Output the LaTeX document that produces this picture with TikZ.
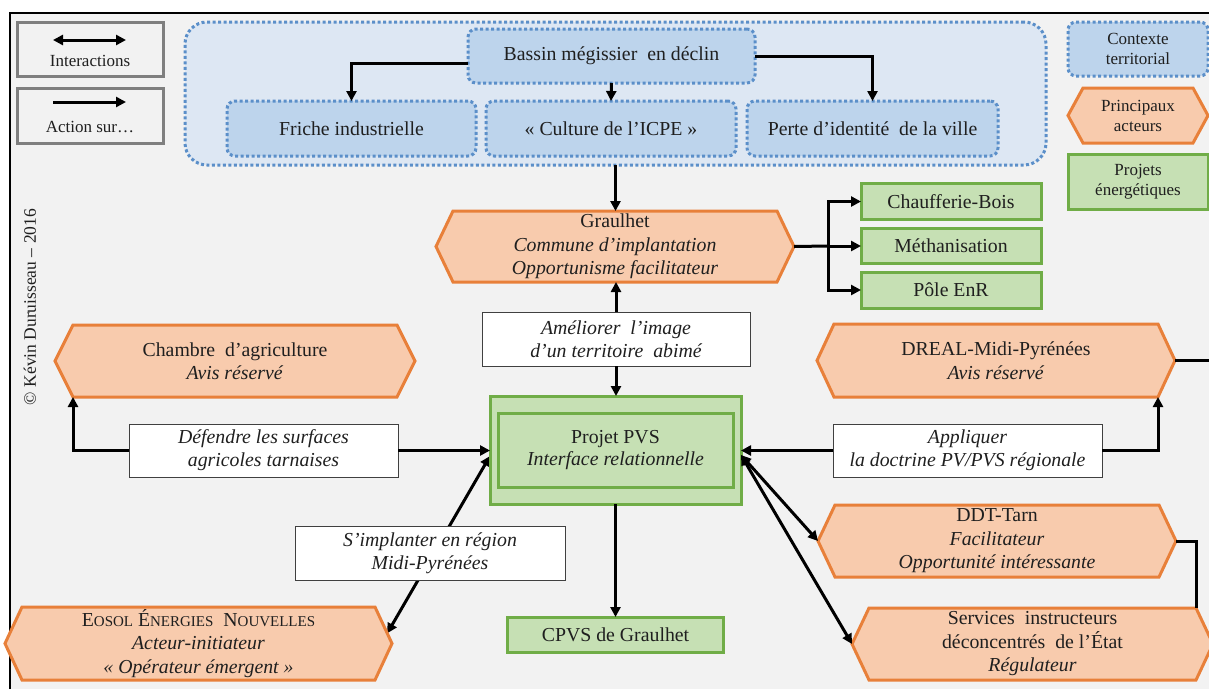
\documentclass[tikz,border=0pt]{standalone}
\usepackage{fontspec}
\setmainfont{Liberation Serif}
\usetikzlibrary{arrows.meta,calc}
\definecolor{bgGray}{HTML}{F2F2F2}
\definecolor{ctxFill}{HTML}{DDE7F3}
\definecolor{ctxBox}{HTML}{BDD4EC}
\definecolor{ctxLine}{HTML}{5B8FC9}
\definecolor{actFill}{HTML}{F8CBAD}
\definecolor{actLine}{HTML}{E8803A}
\definecolor{enFill}{HTML}{C6E0B4}
\definecolor{enLine}{HTML}{70AD47}
\definecolor{legLine}{HTML}{7F7F7F}
\definecolor{txt}{HTML}{1F1F1F}
\pgfdeclarelayer{framelayer}
\pgfdeclarelayer{edgelayer}
\pgfsetlayers{framelayer,edgelayer,main}
\tikzset{
 every node/.style={text=txt, font=\fontsize{19.8}{23.5}\selectfont, inner sep=0pt, outer sep=0pt},
 ctxbox/.style={draw=ctxLine, fill=ctxBox, line width=3pt, dash pattern=on 3pt off 2.5pt, rounded corners=8pt, align=center},
 enbox/.style={draw=enLine, fill=enFill, line width=3pt, align=center},
 lblbox/.style={draw=black!75, fill=white, line width=1pt, align=center, font=\itshape\fontsize{19.8}{23}\selectfont},
 actorline/.style={draw=actLine, fill=actFill, line width=3pt, line join=miter},
 actortext/.style={align=center},
 legbox/.style={draw=legLine, fill=bgGray, line width=3pt},
 legtext/.style={font=\fontsize{17}{20}\selectfont, align=center},
 act/.style={line width=3pt, -{Triangle[length=10pt,width=10pt]}},
 inter/.style={line width=3pt, {Triangle[length=10pt,width=10pt]}-{Triangle[length=10pt,width=10pt]}},
 plain/.style={line width=3pt},
}
% #1 options, #2 name, #3 cx, #4 cy, #5 width, #6 height, #7 inset, #8 text
\newcommand{\hexnode}[8][]{%
  \path[actorline] ({#3-#5/2},#4) -- ({#3-#5/2+#7},{#4-#6/2}) -- ({#3+#5/2-#7},{#4-#6/2}) -- ({#3+#5/2},#4) -- ({#3+#5/2-#7},{#4+#6/2}) -- ({#3-#5/2+#7},{#4+#6/2}) -- cycle;
  \node[actortext, minimum width=#5, minimum height=#6, #1] (#2) at (#3,#4) {#8};}
\newcommand{\smc}[1]{{\fontsize{15}{15}\selectfont #1}}
\begin{document}
\begin{tikzpicture}[x=1pt,y=-1pt]
\useasboundingbox (0,0) rectangle (1209,689);
\begin{pgfonlayer}{framelayer}
\fill[white] (0,0) rectangle (1209,689);
\fill[bgGray] (10,13) rectangle (1209,689);
\draw[line width=1.2pt] (10,689) -- (10,13) -- (1209,13);
\end{pgfonlayer}
\clip (0,0) rectangle (1209,689);

% copyright
\node[rotate=90, font=\fontsize{17.5}{20}\selectfont] (copy) at (30,307) {© Kévin Duruisseau – 2016};

% legend left
\node[legbox, minimum width=146, minimum height=54] (leg1) at (90,49) {};
\coordinate (l1a) at (53,40);
\coordinate (l1b) at (126,40);
\draw[inter] (l1a) -- (l1b);
\node[legtext] (leg1t) at (90,61) {Interactions};
\node[legbox, minimum width=146, minimum height=55] (leg2) at (90,115.5) {};
\coordinate (l2a) at (53,102);
\coordinate (l2b) at (126,102);
\draw[act] (l2a) -- (l2b);
\node[legtext] (leg2t) at (90,127) {Action sur…};

% legend right
\node[ctxbox, legtext, minimum width=140, minimum height=54] (lctx) at (1138,49) {Contexte\\territorial};
\hexnode[legtext]{lact}{1138}{115.5}{140}{55}{15}{Principaux\\acteurs}
\node[enbox, legtext, minimum width=140, minimum height=55] (len) at (1138,182) {Projets\\énergétiques};

% territorial context
\node[ctxbox, fill=ctxFill, rounded corners=22pt, minimum width=861, minimum height=143] (ctx) at (615.5,93.5) {};
\node[ctxbox, minimum width=287, minimum height=54] (bassin) at (611.5,56) {Bassin mégissier\ \ en déclin};
\node[ctxbox, minimum width=249, minimum height=55] (friche) at (351.5,128.5) {Friche industrielle};
\node[ctxbox, minimum width=250, minimum height=55] (culture) at (611,128.5) {« Culture de l’ICPE »};
\node[ctxbox, minimum width=251, minimum height=55] (perte) at (872.5,128.5) {Perte d’identité\ \ de la ville};

% Graulhet
\hexnode{g}{615}{246.5}{358}{71}{17}{Graulhet\\\textit{Commune d’implantation}\\\textit{Opportunisme facilitateur}}
\node[enbox, minimum width=180, minimum height=36] (chauf) at (951,201.5) {Chaufferie-Bois};
\node[enbox, minimum width=180, minimum height=35] (meth) at (951,245.5) {Méthanisation};
\node[enbox, minimum width=180, minimum height=36] (pole) at (951,290) {Pôle EnR};
\coordinate (br) at (828,246);

\node[lblbox, minimum width=268, minimum height=54] (ame) at (616,339) {Améliorer\ \ l’image\\d’un territoire\ \ abimé};

% PVS
\node[enbox, minimum width=251, minimum height=108] (pvs) at (615.5,450) {};
\node[enbox, minimum width=235, minimum height=74, font=\fontsize{19.8}{22.5}\selectfont] (pvsin) at (615.5,450) {Projet PVS\\\textit{Interface relationnelle}};

% actors
\hexnode{ch}{235}{361}{360}{72}{18}{Chambre\ \ d’agriculture\\\textit{Avis réservé}}
\node[lblbox, minimum width=269, minimum height=53] (def) at (263.5,450.5) {Défendre les surfaces\\agricoles tarnaises};
\hexnode{dreal}{996}{360.5}{358}{73}{17}{DREAL-Midi-Pyrénées\\\textit{Avis réservé}}
\node[lblbox, minimum width=269, minimum height=53] (app) at (967.5,450.5) {Appliquer\\la doctrine PV/PVS régionale};
\coordinate (dreOut) at (1215,360.5);
\hexnode{ddt}{997}{541}{358}{72}{17}{DDT-Tarn\\\textit{Facilitateur}\\\textit{Opportunité intéressante}}
\hexnode{serv}{1032.5}{644}{361}{72}{17}{Services\ \ instructeurs\\déconcentrés\ \ de l’État\\\textit{Régulateur}}
\hexnode{eosol}{198.5}{643.5}{387}{73}{17}{E\smc{OSOL} É\smc{NERGIES}\ \ N\smc{OUVELLES}\\\textit{Acteur-initiateur}\\\textit{« Opérateur émergent »}}
\node[lblbox, minimum width=270, minimum height=54] (simp) at (430,553) {S’implanter en région\\Midi-Pyrénées};
\node[enbox, minimum width=216, minimum height=35] (cpvs) at (615.5,634.5) {CPVS de Graulhet};
\coordinate (eosolTR) at ([xshift=-17pt]eosol.north east);
\coordinate (eosolTip) at ($(eosolTR)!0.72!(eosol.east)$);

% connectors
\draw[act] ([yshift=-7pt]bassin.west) -| (friche.north);
\draw[act] (bassin.east) -| (perte.north);
\draw[act] (bassin.south) -- (culture.north);
\draw[act] (ctx.south) -- (ctx.south |- g.north);
\draw[plain] (g.east) -- (br);
\draw[act] (br) |- (chauf.west);
\draw[act] (br) -- (br -| meth.west);
\draw[act] (br) |- (pole.west);
\draw[act] (ame.north) -- (ame.north |- g.south);
\draw[act] (ame.south) -- (ame.south |- pvs.north);
\draw[act] (def.east) -- (def.east -| pvs.west);
\draw[act] (def.west) -| ([xshift=18pt]ch.south west);
\draw[act] (app.west) -- (app.west -| pvs.east);
\draw[act] (app.east) -| ([xshift=-17pt]dreal.south east);
\draw[plain] (dreal.east) -- (dreOut);
\draw[act] (pvs.south) -- (pvs.south |- cpvs.north);
\draw[inter] ([yshift=-5pt]pvs.east) -- (ddt.west);
\draw[inter] ([yshift=-5pt]pvs.east) -- (serv.west);
\draw[plain] (ddt.east) -| ([xshift=-17pt]serv.north east);
\begin{pgfonlayer}{edgelayer}
\draw[inter] ([yshift=-6pt]pvs.west) -- (eosolTip);
\end{pgfonlayer}
\end{tikzpicture}
\end{document}
